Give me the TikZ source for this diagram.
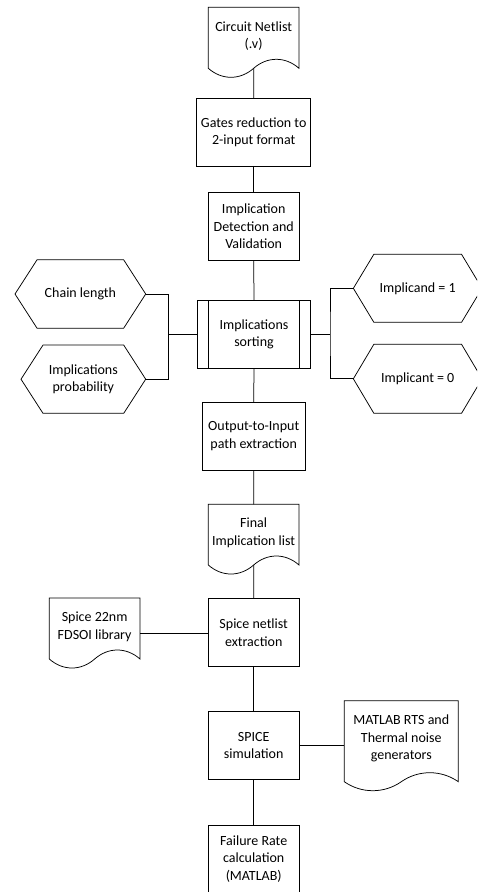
\documentclass[tikz,border=0pt]{standalone}
\usepackage{fontspec}
\setmainfont{Carlito}
\usetikzlibrary{calc}
\tikzset{
  shapeline/.style={draw=black, line width=0.75pt},
  conn/.style={draw=black, line width=0.75pt},
  box/.style={shapeline, rectangle, inner sep=2pt, outer sep=0pt, align=center, font=\fontsize{14}{17.5}\selectfont},
  txt/.style={inner sep=0pt, outer sep=0pt, align=center, font=\fontsize{14}{17.5}\selectfont},
}
% name, x-left, top, width, side height, text
\newcommand\docshape[6]{%
  \draw[shapeline] (#2,#3) -- ({#2+#4},#3) -- ({#2+#4},{#3+#5})
    .. controls ({#2+0.85*#4},{#3+#5-12}) and ({#2+0.65*#4},{#3+#5-12}) .. ({#2+0.5*#4},{#3+#5})
    .. controls ({#2+0.35*#4},{#3+#5+12}) and ({#2+0.15*#4},{#3+#5+12}) .. (#2,{#3+#5}) -- cycle;
  \node[txt] (#1) at ({#2+0.5*#4},{#3+0.47*#5}) {#6};
  \coordinate (#1-n) at ({#2+0.5*#4},#3);
  \coordinate (#1-b) at ({#2+0.5*#4},{#3+#5});
  \coordinate (#1-w) at (#2,{#3+0.5*#5+4.5});
  \coordinate (#1-e) at ({#2+#4},{#3+0.5*#5+4.5});
}
\newcommand\hexoutline[2]{%
  \draw[shapeline] (#1.west) -- ($(#1.north west)+(#2,0)$) -- ($(#1.north east)+(-#2,0)$)
    -- (#1.east) -- ($(#1.south east)+(-#2,0)$) -- ($(#1.south west)+(#2,0)$) -- cycle;}
\begin{document}
\begin{tikzpicture}[x=1pt,y=-1pt]
\useasboundingbox (0,0) rectangle (477,892);
\clip (0,0) rectangle (477,892);

% documents
\docshape{netlist}{208.3}{7.3}{90.7}{61}{Circuit Netlist\\(.v)}
\docshape{final}{208.3}{504.3}{90.7}{60.7}{Final\\Implication list}
\docshape{spicelib}{49.3}{598}{90.7}{61}{Spice 22nm\\FDSOI library}
\docshape{matlab}{344.3}{700.7}{114}{81}{MATLAB RTS and\\Thermal noise\\generators}

% process boxes
\node[box, minimum width=114pt, minimum height=67.3pt] (gates) at (253.7,132.3) {Gates reduction to\\2-input format};
\node[box, minimum width=90.7pt, minimum height=67.7pt] (detect) at (253.7,226.2) {Implication\\Detection and\\Validation};
\node[box, minimum width=113.4pt, minimum height=68.3pt] (sorting) at (254,334.2) {Implications\\sorting};
\draw[shapeline] ($(sorting.north west)+(11,0)$) -- ($(sorting.south west)+(11,0)$);
\draw[shapeline] ($(sorting.north east)+(-11,0)$) -- ($(sorting.south east)+(-11,0)$);
\node[box, minimum width=102.7pt, minimum height=67.7pt] (output) at (253.7,436.2) {Output-to-Input\\path extraction};
\node[box, minimum width=90.7pt, minimum height=67.7pt] (spicenet) at (253.7,632.5) {Spice netlist\\extraction};
\node[box, minimum width=90.7pt, minimum height=67.6pt] (sim) at (253.7,745.5) {SPICE\\simulation};
\node[box, minimum width=91pt, minimum height=68pt] (failure) at (253.7,859) {Failure Rate\\calculation\\(MATLAB)};

% hexagons
\node[txt, minimum width=130.7pt, minimum height=68.3pt] (chain) at (80.35,294) {Chain length};
\hexoutline{chain}{22}
\node[txt, minimum width=124.7pt, minimum height=68.3pt] (prob) at (83.35,379.2) {Implications\\probability};
\hexoutline{prob}{22}
\node[txt, minimum width=128.7pt, minimum height=68pt] (one) at (417.7,288.3) {Implicand = 1};
\hexoutline{one}{20.5}
\node[txt, minimum width=128.7pt, minimum height=69pt] (zero) at (417.7,378.8) {Implicant = 0};
\hexoutline{zero}{20.5}

% connectors
\draw[conn] (netlist-b) -- (gates.north);
\draw[conn] (gates.south) -- (detect.north);
\draw[conn] (detect.south) -- (sorting.north);
\draw[conn] (sorting.south) -- (output.north);
\draw[conn] (output.south) -- (final-n);
\draw[conn] (final-b) -- (spicenet.north);
\draw[conn] (spicenet.south) -- (sim.north);
\draw[conn] (sim.south) -- (failure.north);
\draw[conn] (spicelib-e) -- (spicelib-e -| spicenet.west);
\draw[conn] (sim.east) -- (sim.east -| matlab-w);
\coordinate (jl) at ($(sorting.west)+(-29,0)$);
\coordinate (jr) at ($(sorting.east)+(19.3,0)$);
\draw[conn] (chain.east) -| (jl) |- (prob.east);
\draw[conn] (sorting.west) -- (jl);
\draw[conn] (one.west) -| (jr) |- (zero.west);
\draw[conn] (sorting.east) -- (jr);
\end{tikzpicture}
\end{document}
